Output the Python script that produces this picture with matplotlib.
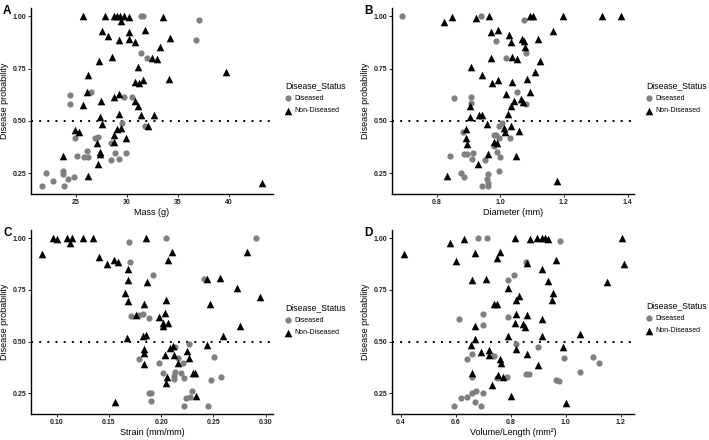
import numpy as np
import matplotlib
matplotlib.use("Agg")
import matplotlib.pyplot as plt

plt.rcParams['font.family'] = ['Liberation Sans', 'DejaVu Sans']

# Panel A: mass (g)
mass_dis = [31.4, 31.6, 37.1, 36.8, 31.4, 32.0, 24.4, 24.4, 26.5, 29.7, 30.45, 29.55, 31.8,
            24.9, 26.9, 27.15, 28.45, 25.15, 25.75, 26.2, 26.1, 28.8, 29.9, 29.2, 28.4,
            22.1, 23.75, 23.7, 24.85, 24.2, 22.75, 21.7, 23.8]
mass_dis_p = [1.00, 1.00, 0.984, 0.885, 0.824, 0.80, 0.622, 0.58, 0.636, 0.612, 0.612, 0.49, 0.473,
              0.42, 0.42, 0.425, 0.394, 0.33, 0.325, 0.327, 0.354, 0.346, 0.346, 0.317, 0.314,
              0.25, 0.258, 0.247, 0.231, 0.221, 0.21, 0.19, 0.19]
mass_non = [25.65, 27.8, 28.7, 29.0, 29.35, 29.7, 30.2, 29.4, 33.5, 27.6, 28.1, 31.8, 30.2, 29.2,
            30.2, 30.75, 34.25, 33.2, 28.5, 27.25, 32.45, 32.95, 31.1, 39.7, 26.15, 34.15, 31.6,
            30.8, 31.2, 26.1, 29.2, 27.5, 28.7, 25.7, 30.75, 31.05, 27.35, 29.2, 31.4, 32.6,
            27.55, 32.1, 24.9, 25.3, 29.4, 29.0, 29.9, 28.7, 28.75, 27.1, 27.35, 27.4, 23.75,
            27.2, 26.15, 43.2]
mass_non_p = [1.00, 1.00, 1.00, 1.00, 1.00, 1.00, 0.995, 0.976, 0.995, 0.93, 0.907, 0.936, 0.925,
              0.885, 0.89, 0.876, 0.896, 0.852, 0.805, 0.788, 0.80, 0.796, 0.76, 0.735, 0.72,
              0.70, 0.697, 0.684, 0.681, 0.636, 0.628, 0.593, 0.612, 0.577, 0.593, 0.572, 0.518,
              0.534, 0.529, 0.529, 0.486, 0.473, 0.454, 0.446, 0.465, 0.46, 0.42, 0.434, 0.40,
              0.394, 0.35, 0.343, 0.333, 0.295, 0.237, 0.205]

# Panel B: diameter (mm)
diam_dis = [0.692, 0.941, 1.076, 0.988, 1.081, 1.017, 0.854, 0.907, 0.907, 1.051, 1.081, 1.005,
            0.995, 0.884, 0.979, 0.986, 0.995, 1.031, 0.979, 0.886, 0.896, 0.915, 0.91, 0.953,
            0.99, 1.0, 0.841, 0.877, 0.886, 0.962, 0.995, 0.959, 0.962, 0.943, 0.962]
diam_dis_p = [1.00, 1.00, 0.984, 0.884, 0.824, 0.80, 0.609, 0.612, 0.585, 0.636, 0.58, 0.49,
              0.473, 0.445, 0.43, 0.434, 0.418, 0.42, 0.378, 0.343, 0.343, 0.346, 0.317, 0.314,
              0.35, 0.327, 0.33, 0.25, 0.231, 0.247, 0.258, 0.221, 0.205, 0.19, 0.19]
diam_non = [0.822, 0.85, 0.924, 0.966, 1.093, 1.104, 1.196, 1.321, 1.378, 0.971, 0.993, 1.026,
            1.033, 1.068, 1.075, 1.078, 1.12, 1.167, 0.972, 1.038, 1.052, 1.125, 0.908, 1.108,
            0.944, 0.993, 0.975, 1.036, 1.083, 1.094, 1.018, 1.064, 1.043, 1.07, 1.033, 0.904,
            0.904, 0.933, 0.943, 1.023, 0.958, 0.891, 1.034, 1.011, 1.016, 1.06, 0.891, 0.897,
            0.979, 0.991, 0.962, 1.049, 0.93, 0.833, 1.179]
diam_non_p = [0.973, 0.995, 0.992, 1.00, 1.00, 1.00, 1.00, 1.00, 1.00, 0.925, 0.936, 0.909,
              0.876, 0.893, 0.88, 0.852, 0.89, 0.93, 0.80, 0.805, 0.796, 0.788, 0.76, 0.735,
              0.72, 0.697, 0.681, 0.684, 0.70, 0.64, 0.628, 0.606, 0.593, 0.59, 0.572, 0.572,
              0.518, 0.529, 0.529, 0.534, 0.486, 0.46, 0.473, 0.465, 0.446, 0.453, 0.42, 0.39,
              0.397, 0.394, 0.343, 0.331, 0.295, 0.234, 0.21]

# Panel C: strain (mm/mm)
strain_dis = [0.2047, 0.1688, 0.291, 0.1704, 0.192, 0.2414, 0.1714, 0.1787, 0.1825, 0.1882,
              0.2262, 0.2135, 0.2506, 0.1983, 0.1787, 0.2164, 0.2205, 0.2015, 0.2135, 0.2126,
              0.2126, 0.219, 0.2221, 0.2478, 0.257, 0.1882, 0.1904, 0.1904, 0.2294, 0.2275,
              0.2237, 0.2215, 0.2446]
strain_dis_p = [1.00, 0.984, 1.00, 0.885, 0.821, 0.804, 0.622, 0.63, 0.636, 0.614, 0.489, 0.473,
                0.426, 0.398, 0.418, 0.42, 0.397, 0.349, 0.354, 0.335, 0.32, 0.346, 0.323, 0.314,
                0.33, 0.25, 0.25, 0.213, 0.261, 0.234, 0.226, 0.19, 0.19]
strain_non = [0.0857, 0.0968, 0.10, 0.1095, 0.1127, 0.115, 0.1254, 0.1343, 0.1856, 0.1403,
              0.1482, 0.155, 0.159, 0.1685, 0.1685, 0.1866, 0.165, 0.1685, 0.1834, 0.2047,
              0.2062, 0.2104, 0.1761, 0.2037, 0.1977, 0.2015, 0.2062, 0.2015, 0.183, 0.1856,
              0.167, 0.2088, 0.211, 0.1837, 0.1837, 0.184, 0.2037, 0.2126, 0.2164, 0.2246,
              0.2262, 0.23, 0.2326, 0.2056, 0.2047, 0.2333, 0.1555, 0.2468, 0.2434, 0.2564,
              0.244, 0.2595, 0.2751, 0.2728, 0.2817, 0.295]
strain_non_p = [0.925, 1.00, 0.997, 1.00, 0.979, 1.00, 1.00, 1.00, 1.00, 0.907, 0.877, 0.896,
                0.884, 0.853, 0.797, 0.789, 0.737, 0.697, 0.684, 0.70, 0.893, 0.933, 0.63, 0.638,
                0.617, 0.588, 0.59, 0.574, 0.529, 0.534, 0.518, 0.469, 0.477, 0.462, 0.445,
                0.394, 0.434, 0.434, 0.398, 0.454, 0.419, 0.35, 0.346, 0.33, 0.298, 0.239, 0.21,
                0.681, 0.804, 0.808, 0.486, 0.526, 0.577, 0.761, 0.936, 0.718]

# Panel D: volume/length (mm^2)
vol_dis = [0.68, 0.715, 0.98, 0.855, 0.81, 0.79, 0.61, 0.70, 0.70, 0.79, 0.82, 0.90, 0.66, 0.64,
           0.74, 0.995, 1.10, 1.12, 1.05, 0.66, 0.75, 0.785, 0.855, 0.865, 0.965, 0.975, 0.62,
           0.64, 0.66, 0.675, 0.70, 0.67, 0.595, 0.69]
vol_dis_p = [1.00, 1.00, 0.985, 0.885, 0.82, 0.80, 0.61, 0.635, 0.58, 0.62, 0.49, 0.475, 0.44,
             0.415, 0.43, 0.42, 0.425, 0.395, 0.355, 0.33, 0.325, 0.33, 0.345, 0.345, 0.315,
             0.31, 0.225, 0.23, 0.25, 0.26, 0.25, 0.21, 0.19, 0.19]
vol_non = [0.41, 0.58, 0.63, 0.60, 0.67, 0.76, 0.75, 0.66, 0.71, 0.815, 0.87, 0.895, 0.915,
           0.925, 0.935, 0.86, 0.965, 0.915, 0.935, 0.955, 0.95, 1.15, 1.206, 1.21, 0.79, 0.83,
           0.82, 0.74, 0.75, 0.82, 0.86, 0.815, 0.845, 0.85, 0.915, 0.67, 0.67, 0.79, 0.915,
           1.05, 0.655, 0.69, 0.72, 0.72, 0.76, 0.765, 0.82, 0.86, 0.99, 0.90, 0.66, 0.755,
           0.77, 0.73, 0.80, 1.00]
vol_non_p = [0.923, 0.975, 0.995, 0.89, 0.93, 0.935, 0.905, 0.80, 0.805, 1.00, 0.995, 1.00, 1.00,
             1.00, 0.995, 0.88, 0.895, 0.85, 0.795, 0.735, 0.70, 0.79, 1.00, 0.874, 0.76, 0.72,
             0.70, 0.68, 0.68, 0.635, 0.63, 0.59, 0.585, 0.57, 0.61, 0.575, 0.515, 0.525, 0.525,
             0.535, 0.485, 0.45, 0.46, 0.435, 0.415, 0.395, 0.465, 0.44, 0.475, 0.385, 0.35,
             0.34, 0.33, 0.29, 0.235, 0.205]

GREY = '#7f7f7f'


def draw_panel(fig, rect, letter, x_dis, p_dis, x_non, p_non, xlabel, xlim, xticks, fmt,
               leg_xy):
    W, H = 709.0, 440.0
    left, top, right, bottom = rect
    ax = fig.add_axes([left / W, 1 - bottom / H, (right - left) / W, (bottom - top) / H])
    h1 = ax.scatter(x_dis, p_dis, s=20, marker='o', color=GREY, linewidths=0, zorder=3)
    h2 = ax.scatter(x_non, p_non, s=30, marker='^', color='black', linewidths=0, zorder=3)
    ax.axhline(0.5, color='black', lw=1.4, ls=(0, (1, 3.2)), dash_capstyle='butt', zorder=2)

    ax.set_xlim(*xlim)
    ax.set_ylim(0.15, 1.04)
    ax.set_xticks(xticks)
    ax.set_xticklabels([fmt.format(t) for t in xticks])
    ax.set_yticks([0.25, 0.5, 0.75, 1.0])
    ax.set_yticklabels(['0.25', '0.50', '0.75', '1.00'])
    for s in ['top', 'right']:
        ax.spines[s].set_visible(False)
    for s in ['left', 'bottom']:
        ax.spines[s].set_linewidth(1.0)
    ax.tick_params(length=2, width=0.6, pad=1.5, labelsize=5, labelcolor='#222222')
    for lab in ax.get_xticklabels() + ax.get_yticklabels():
        lab.set_fontweight('bold')

    ax.set_xlabel(xlabel, fontsize=6.5, labelpad=1.5)
    ax.set_ylabel('Disease probability', fontsize=6.5)
    ax.yaxis.set_label_coords(-22.0 / (right - left), 0.5)

    fig.text((left - 28) / W, 1 - (top - 3) / H, letter, fontsize=8.5, fontweight='bold',
             va='top', ha='left')

    ax.legend([h1, h2], ['Diseased', 'Non-Diseased'], title='Disease_Status',
              loc='upper left', bbox_to_anchor=(leg_xy[0] / W, 1 - leg_xy[1] / H),
              bbox_transform=fig.transFigure, frameon=False, fontsize=5,
              title_fontsize=6.2, alignment='left', borderpad=0, borderaxespad=0,
              handlelength=0.8, handletextpad=0.5, labelspacing=0.75)
    return ax


fig = plt.figure(figsize=(7.09, 4.40), dpi=100)

draw_panel(fig, (31, 8, 273, 194), 'A', mass_dis, mass_dis_p, mass_non, mass_non_p,
           'Mass (g)', (20.6, 44.3), [25, 30, 35, 40], '{:d}', (285, 81))
draw_panel(fig, (392, 8, 634, 194), 'B', diam_dis, diam_dis_p, diam_non, diam_non_p,
           'Diameter (mm)', (0.66, 1.42), [0.8, 1.0, 1.2, 1.4], '{:.1f}', (646, 81))
draw_panel(fig, (31, 230, 273, 414), 'C', strain_dis, strain_dis_p, strain_non, strain_non_p,
           'Strain (mm/mm)', (0.0754, 0.307), [0.10, 0.15, 0.20, 0.25, 0.30], '{:.2f}',
           (285, 303))
draw_panel(fig, (392, 230, 634, 414), 'D', vol_dis, vol_dis_p, vol_non, vol_non_p,
           'Volume/Length (mm\u00b2)', (0.368, 1.248), [0.4, 0.6, 0.8, 1.0, 1.2], '{:.1f}',
           (646, 301))

fig.savefig('out.png', dpi=100)
